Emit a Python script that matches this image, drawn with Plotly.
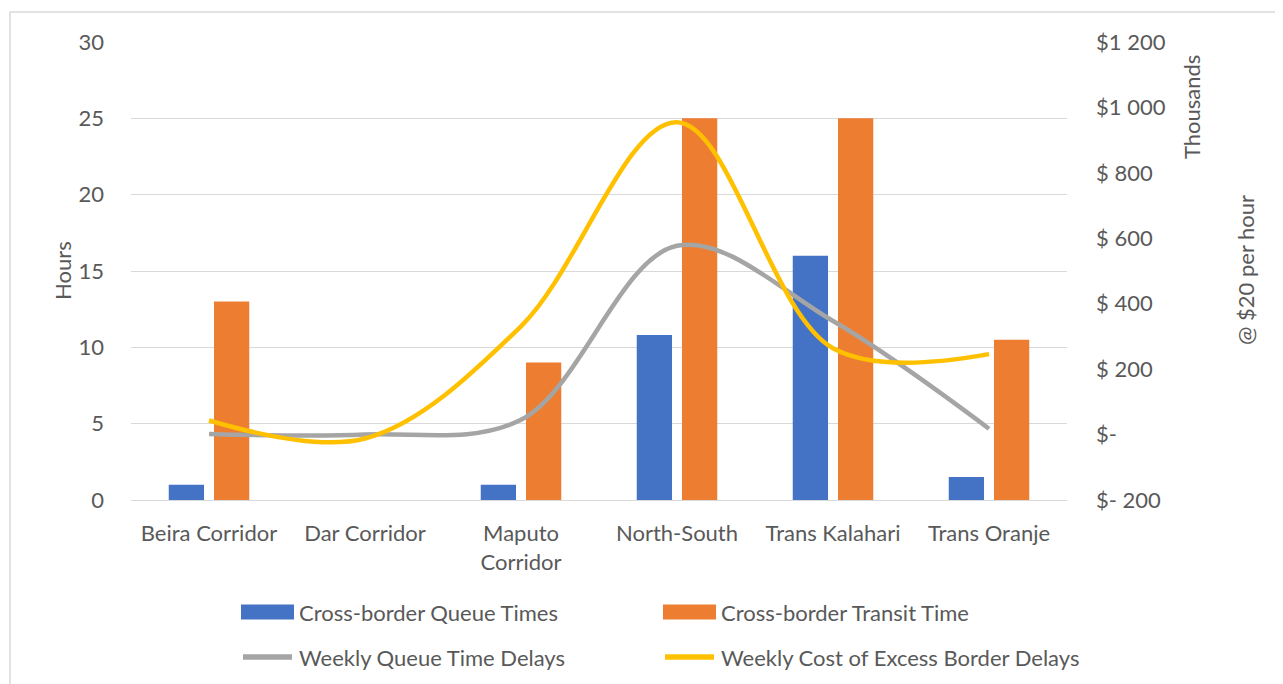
import plotly.graph_objects as go

categories = ["Beira Corridor", "Dar Corridor", "Maputo<br>Corridor", "North-South", "Trans Kalahari", "Trans Oranje"]
queue_times = [1, 0, 1, 10.8, 16, 1.5]
transit_times = [13, 0, 9, 25, 25, 10.5]
weekly_queue_delays = [2, 0, 45, 577, 347, 18]
weekly_cost = [43, -12, 331, 955, 264, 246]
right_tickvals = [-200, 0, 200, 400, 600, 800, 1000, 1200]
right_ticktext = ["$- 200", "$-", "$ 200", "$ 400", "$ 600", "$ 800", "$1 000", "$1 200"]

FONT = "Lato"
TXT = "#595959"
FS = 22
COLORS = ["#4472C4", "#ED7D31", "#A5A5A5", "#FFC000"]
NAMES = ["Cross-border Queue Times", "Cross-border Transit Time",
         "Weekly Queue Time Delays", "Weekly Cost of Excess Border Delays"]

OFF = 8  # page body margin
# plot area in page pixel coordinates
PL, PR, PT, PB = 131, 1067, 42, 500
W, H = 1283 - OFF, 684 - OFF
L, R, T, B = PL - OFF, PR - OFF, PT - OFF, PB - OFF


def px(x):
    return (x - PL) / (PR - PL)


def py(y):
    return (PB - y) / (PB - PT)


fig = go.Figure()
fig.add_trace(go.Bar(x=categories, y=queue_times, name=NAMES[0],
                     marker=dict(color=COLORS[0], line=dict(width=0))))
fig.add_trace(go.Bar(x=categories, y=transit_times, name=NAMES[1],
                     marker=dict(color=COLORS[1], line=dict(width=0))))
fig.add_trace(go.Scatter(x=categories, y=weekly_queue_delays, name=NAMES[2],
                         mode="lines", yaxis="y2",
                         line=dict(color=COLORS[2], width=4.5, shape="spline", smoothing=1)))
fig.add_trace(go.Scatter(x=categories, y=weekly_cost, name=NAMES[3],
                         mode="lines", yaxis="y2",
                         line=dict(color=COLORS[3], width=4.5, shape="spline", smoothing=1)))

fig.update_layout(
    width=W, height=H,
    margin=dict(l=L, r=W - R, t=T, b=H - B, pad=0, autoexpand=False),
    paper_bgcolor="white", plot_bgcolor="white",
    font=dict(family=FONT, size=FS, color=TXT),
    barmode="group", bargap=0.42, bargroupgap=0.22,
    showlegend=False,
    xaxis=dict(showgrid=False, showline=False, zeroline=False, ticks="", automargin=False,
               tickfont=dict(size=FS, color=TXT), ticklabelstandoff=18),
    yaxis=dict(range=[0, 30], dtick=5, showgrid=True, gridcolor="#d9d9d9", gridwidth=1,
               zeroline=True, zerolinecolor="#d9d9d9", zerolinewidth=1, showline=False,
               ticks="", automargin=False, tickfont=dict(size=FS, color=TXT), ticklabelstandoff=26),
    yaxis2=dict(range=[-200, 1200], overlaying="y", side="right", showgrid=False,
                zeroline=False, showline=False, ticks="", automargin=False,
                tickvals=right_tickvals, ticktext=right_ticktext,
                tickfont=dict(size=FS, color=TXT), ticklabelstandoff=28),
)

# axis titles
fig.add_annotation(text="Hours", xref="paper", yref="paper", x=px(62), y=py(271),
                   textangle=-90, showarrow=False, font=dict(size=FS, color=TXT),
                   xanchor="center", yanchor="middle")
fig.add_annotation(text="Thousands", xref="paper", yref="paper", x=px(1191), y=py(107),
                   textangle=-90, showarrow=False, font=dict(size=FS, color=TXT),
                   xanchor="center", yanchor="middle")
fig.add_annotation(text="@ $20 per hour", xref="paper", yref="paper", x=px(1245), y=py(270),
                   textangle=-90, showarrow=False, font=dict(size=FS, color=TXT),
                   xanchor="center", yanchor="middle")

# legend (2 x 2)
leg_pos = [(241, 612), (663, 612), (241, 657), (663, 657)]
for i, (lx, ly) in enumerate(leg_pos):
    if i < 2:
        fig.add_shape(type="rect", xref="paper", yref="paper",
                      x0=px(lx), x1=px(lx + 53), y0=py(ly + 7.5), y1=py(ly - 7.5),
                      fillcolor=COLORS[i], line=dict(width=0))
    else:
        fig.add_shape(type="line", xref="paper", yref="paper",
                      x0=px(lx + 2), x1=px(lx + 51), y0=py(ly), y1=py(ly),
                      line=dict(color=COLORS[i], width=5.5))
    fig.add_annotation(text=NAMES[i], xref="paper", yref="paper", x=px(lx + 56), y=py(ly),
                       showarrow=False, font=dict(size=FS, color=TXT),
                       xanchor="left", yanchor="middle")

# chart frame
fig.add_shape(type="rect", xref="paper", yref="paper",
              x0=px(10), x1=px(1290), y0=py(690), y1=py(12),
              line=dict(color="#d9d9d9", width=1.5), layer="below")

fig.write_html("out.html")
